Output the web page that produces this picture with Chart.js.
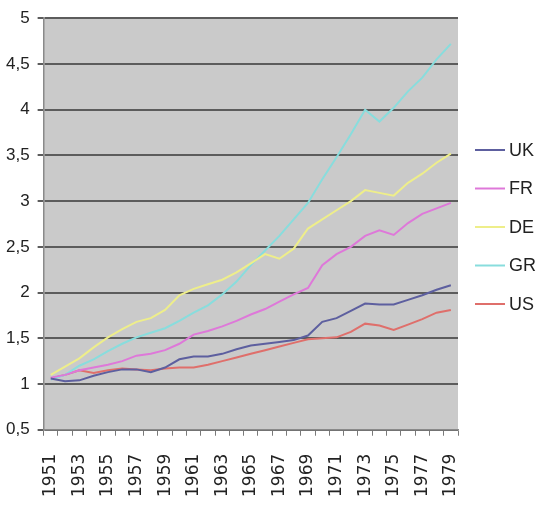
<!DOCTYPE html>
<html>
<head>
<meta charset="utf-8">
<script src="https://cdn.jsdelivr.net/npm/chart.js@4.4.1/dist/chart.umd.min.js"></script>
<style>
  html, body { margin: 0; padding: 0; background: #fff; }
  #wrap { width: 540px; height: 512px; }
</style>
</head>
<body>
<div id="wrap"><canvas id="chart" width="540" height="512"></canvas></div>
<script>
const years = ['1951', '1952', '1953', '1954', '1955', '1956', '1957', '1958', '1959', '1960',
  '1961', '1962', '1963', '1964', '1965', '1966', '1967', '1968', '1969', '1970',
  '1971', '1972', '1973', '1974', '1975', '1976', '1977', '1978', '1979'];

const seriesNames = ['UK', 'FR', 'DE', 'GR', 'US'];

const uk = [1.06, 1.03, 1.04, 1.09, 1.13, 1.16, 1.16, 1.13, 1.18, 1.27, 1.3, 1.3, 1.33, 1.38, 1.42,
  1.44, 1.46, 1.48, 1.53, 1.68, 1.72, 1.8, 1.88, 1.87, 1.87, 1.92, 1.97, 2.03, 2.08];
const fr = [1.07, 1.1, 1.15, 1.18, 1.21, 1.25, 1.31, 1.33, 1.37, 1.44, 1.54, 1.58, 1.63, 1.69, 1.76,
  1.82, 1.9, 1.98, 2.05, 2.3, 2.42, 2.5, 2.62, 2.68, 2.63, 2.76, 2.86, 2.92, 2.98];
const de = [1.1, 1.19, 1.28, 1.4, 1.51, 1.6, 1.68, 1.72, 1.81, 1.97, 2.04, 2.09, 2.14, 2.22, 2.32,
  2.42, 2.37, 2.48, 2.7, 2.8, 2.9, 3.0, 3.12, 3.09, 3.06, 3.2, 3.3, 3.42, 3.52];
const gr = [1.05, 1.1, 1.2, 1.27, 1.36, 1.44, 1.51, 1.56, 1.61, 1.69, 1.78, 1.86, 1.98, 2.12, 2.3,
  2.46, 2.62, 2.8, 2.98, 3.24, 3.48, 3.73, 4.0, 3.87, 4.02, 4.2, 4.35, 4.55, 4.72];
const us = [1.06, 1.1, 1.15, 1.12, 1.15, 1.17, 1.16, 1.15, 1.17, 1.18, 1.18, 1.21, 1.25, 1.29, 1.33,
  1.37, 1.41, 1.45, 1.49, 1.5, 1.51, 1.57, 1.66, 1.64, 1.59, 1.65, 1.71, 1.78, 1.81];

const colors = ['#5d5f9f', '#de78d9', '#eeee8a', '#88dddd', '#df6f6b'];

// серый фон области построения
const plotBackground = {
  id: 'plotBackground',
  beforeDraw(chart) {
    const { ctx, chartArea: { left, top, width, height } } = chart;
    ctx.save();
    ctx.fillStyle = '#cacaca';
    ctx.fillRect(left, top, width, height);
    ctx.restore();
  },
};

// легенда справа, как в Excel: короткая линия и подпись
const sideLegend = {
  id: 'sideLegend',
  afterDraw(chart, args, options) {
    const { ctx } = chart;
    ctx.save();
    ctx.font = options.font;
    ctx.textBaseline = 'middle';
    chart.data.datasets.forEach((ds, i) => {
      const y = options.top + i * options.step;
      ctx.strokeStyle = ds.borderColor;
      ctx.lineWidth = 2;
      ctx.beginPath();
      ctx.moveTo(options.x, y);
      ctx.lineTo(options.x + options.lineWidth, y);
      ctx.stroke();
      ctx.fillStyle = '#222';
      ctx.fillText(ds.label, options.x + options.lineWidth + 4, y + 1);
    });
    ctx.restore();
  },
};

const ctx = document.getElementById('chart');

new Chart(ctx, {
  type: 'line',
  plugins: [plotBackground, sideLegend],
  data: {
    labels: years,
    datasets: [uk, fr, de, gr, us].map((values, i) => ({
      label: seriesNames[i],
      data: values,
      borderColor: colors[i],
      backgroundColor: colors[i],
      borderWidth: 2,
      pointRadius: 0,
      tension: 0,
    })),
  },
  options: {
    responsive: false,
    animation: false,
    layout: {
      padding: { left: -2, right: 82, top: 4, bottom: -3 },
    },
    plugins: {
      legend: { display: false },
      tooltip: { enabled: false },
      sideLegend: {
        x: 475,
        top: 150,
        step: 38.5,
        lineWidth: 30,
        font: '18px "Liberation Sans", Arial, sans-serif',
      },
    },
    scales: {
      x: {
        offset: true,
        grid: {
          offset: true,
          drawOnChartArea: false,
          drawTicks: true,
          tickLength: 6,
          color: '#7a7a7a',
        },
        border: { color: '#8a8a8a', width: 1.5 },
        ticks: {
          autoSkip: false,
          maxRotation: 90,
          minRotation: 90,
          padding: 18,
          color: '#222',
          font: { size: 17, family: '"DejaVu Sans", sans-serif' },
          callback(value, index) {
            return index % 2 === 0 ? this.getLabelForValue(value) : '';
          },
        },
      },
      y: {
        min: 0.5,
        max: 5,
        grid: {
          color: '#5c5c5c',
          lineWidth: 2,
          tickLength: 6,
        },
        border: { color: '#8a8a8a', width: 1.5 },
        ticks: {
          stepSize: 0.5,
          padding: 8,
          color: '#222',
          font: { size: 17, family: '"Liberation Sans", Arial, sans-serif' },
          callback: (value) => String(value).replace('.', ','),
        },
      },
    },
  },
});
</script>
</body>
</html>
